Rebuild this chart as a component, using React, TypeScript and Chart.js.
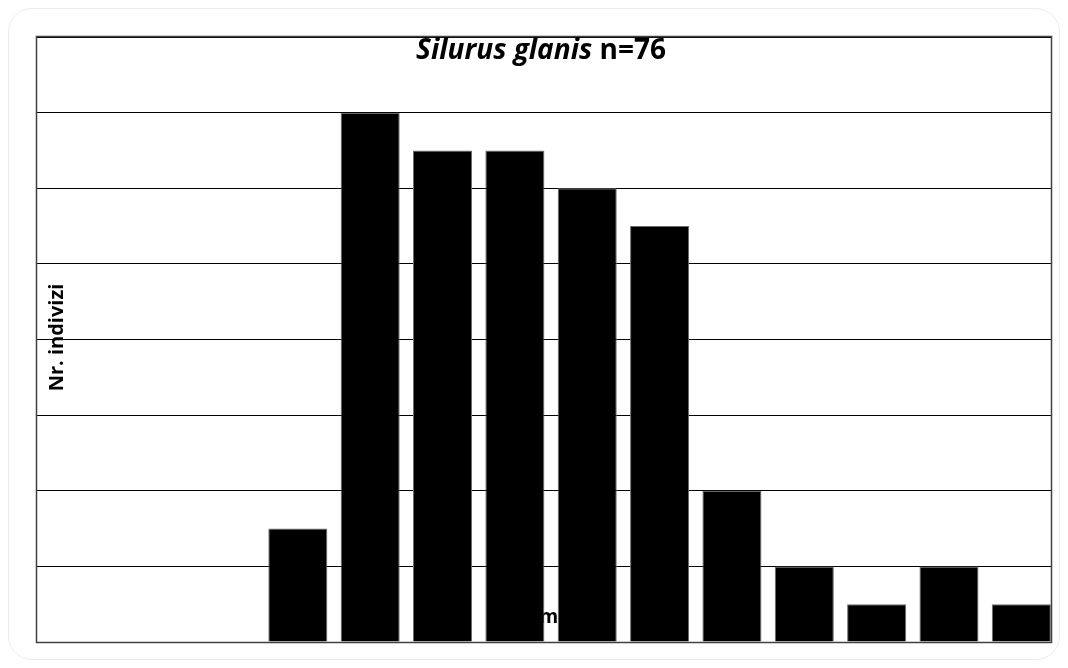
import React, { useEffect, useRef } from "react";
import { Chart, registerables } from "chart.js";

Chart.register(...registerables);

// Length classes (index of class) and number of individuals per class
const classIndex = [0, 1, 2, 3, 4, 5, 6, 7, 8, 9, 10, 11, 12, 13];
const counts = [0, 0, 0, 3, 14, 13, 13, 12, 11, 4, 2, 1, 2, 1];
const yTicks = [0, 2, 4, 6, 8, 10, 12, 14, 16];

const titleItalic = "Silurus glanis";
const titleRest = " n=76";
const yTitle = "Nr. indivizi";
const xTitle = "cm";
const FONT = "'Open Sans', 'DejaVu Sans', sans-serif";

export default function App() {
  const ref = useRef<HTMLCanvasElement | null>(null);

  useEffect(() => {
    const canvas = ref.current;
    if (!canvas) return;

    const decor = {
      id: "decor",
      beforeDatasetsDraw(chart: any) {
        const { ctx, chartArea } = chart;
        const { left, right, bottom } = chartArea;
        const cx = (left + right) / 2;
        ctx.save();
        ctx.fillStyle = "#000";
        // x axis title (partly hidden behind bars)
        ctx.font = `bold 19px ${FONT}`;
        ctx.textAlign = "center";
        ctx.textBaseline = "alphabetic";
        ctx.fillText(xTitle, cx, bottom - 19);
        ctx.restore();
      },
      afterDraw(chart: any) {
        const { ctx, chartArea } = chart;
        const { left, right, top, bottom } = chartArea;
        const cx = (left + right) / 2;
        const cy = (top + bottom) / 2;
        ctx.save();
        // frame
        ctx.strokeStyle = "#404040";
        ctx.lineWidth = 1.5;
        ctx.strokeRect(left - 0.5, top - 0.5, right - left + 1, bottom - top + 1);
        // title
        ctx.fillStyle = "#000";
        ctx.textBaseline = "alphabetic";
        ctx.textAlign = "left";
        const fItal = `italic bold 28px ${FONT}`;
        const fBold = `bold 28px ${FONT}`;
        ctx.font = fItal;
        const w1 = ctx.measureText(titleItalic).width;
        ctx.font = fBold;
        const w2 = ctx.measureText(titleRest).width;
        const x0 = cx - 3 - (w1 + w2) / 2;
        ctx.font = fItal;
        ctx.fillText(titleItalic, x0, top + 22);
        ctx.font = fBold;
        ctx.fillText(titleRest, x0 + w1, top + 22);
        // y axis title
        ctx.translate(left + 20, cy - 2);
        ctx.rotate(-Math.PI / 2);
        ctx.font = `bold 20px ${FONT}`;
        ctx.textAlign = "center";
        ctx.textBaseline = "middle";
        ctx.fillText(yTitle, 0, 0);
        ctx.restore();
      },
    };

    const chart = new Chart(canvas, {
      type: "bar",
      data: {
        datasets: [
          {
            data: classIndex.map((x, i) => ({ x, y: counts[i] })),
            backgroundColor: "#000000",
            borderColor: "#6a6a6a",
            borderWidth: 1,
            barPercentage: 1,
            categoryPercentage: 0.816,
          },
        ],
      },
      options: {
        animation: false,
        responsive: false,
        layout: { padding: { left: 29, top: 29, right: 9, bottom: 18 } },
        plugins: {
          legend: { display: false },
          tooltip: { enabled: false },
          title: { display: false },
        },
        scales: {
          x: {
            type: "linear",
            display: false,
            offset: false,
            min: -0.605,
            max: 13.41,
            ticks: { stepSize: 1, includeBounds: false, display: false },
            grid: { display: false, offset: false },
          },
          y: {
            min: yTicks[0],
            max: yTicks[yTicks.length - 1],
            ticks: { stepSize: 2, display: false },
            grid: { color: "#000000", lineWidth: 1, drawTicks: false },
            border: { display: false },
          },
        },
      },
      plugins: [decor],
    });
    return () => chart.destroy();
  }, []);

  return (
    <div style={{ position: "relative", width: 1052, height: 652 }}>
      <canvas ref={ref} width={1052} height={652} style={{ display: "block" }} />
      <div
        style={{
          position: "absolute",
          left: 0,
          top: 0,
          width: 1052,
          height: 652,
          boxSizing: "border-box",
          border: "1px solid #ececec",
          borderRadius: 24,
          pointerEvents: "none",
        }}
      />
    </div>
  );
}
